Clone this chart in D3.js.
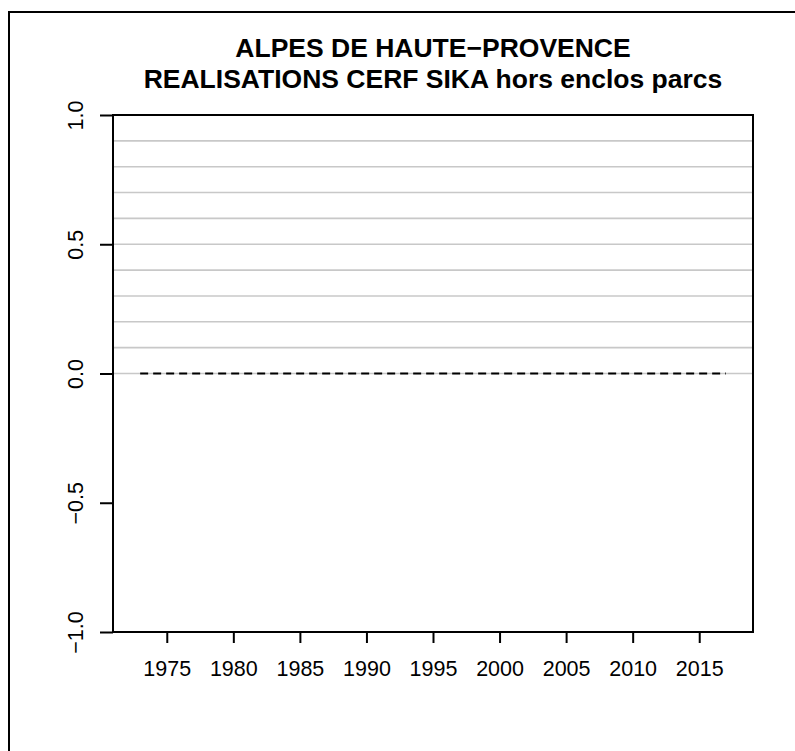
<!DOCTYPE html>
<html lang="fr">
<head>
<meta charset="UTF-8" />
<title>Réalisations cerf sika</title>
<style>
  html, body { margin: 0; padding: 0; background: #fff; }
  svg { display: block; }
  text { font-family: "Liberation Sans", Arial, Helvetica, sans-serif; fill: #000; }
</style>
</head>
<body>
<div id="wrapper"></div>
<script src="https://d3js.org/d3.v7.min.js"></script>
<script>
const years = d3.range(1973, 2018);
const realisations = years.map(() => 0);
const xTickValues = [1975, 1980, 1985, 1990, 1995, 2000, 2005, 2010, 2015];
const yTickValues = [-1, -0.5, 0, 0.5, 1];
const gridValues = [0, 0.1, 0.2, 0.3, 0.4, 0.5, 0.6, 0.7, 0.8, 0.9];
const titleLines = ["ALPES DE HAUTE\u2212PROVENCE", "REALISATIONS CERF SIKA hors enclos parcs"];

const W = 795, H = 751;
const plot = {left: 113, right: 753, top: 115, bottom: 632};

const svg = d3.select("#wrapper").append("svg")
  .attr("width", W).attr("height", H);

// outer frame (runs off the right / bottom edge like the original)
svg.append("rect")
  .attr("x", 9).attr("y", 12)
  .attr("width", W).attr("height", H)
  .attr("fill", "none").attr("stroke", "#000").attr("stroke-width", 2);

const x = d3.scaleLinear().domain([1970.96, 2019.04]).range([plot.left, plot.right]);
const y = d3.scaleLinear().domain([-1, 1]).range([plot.bottom, plot.top]);

// grey horizontal lines
svg.append("g")
  .selectAll("line")
  .data(gridValues)
  .join("line")
  .attr("x1", plot.left).attr("x2", plot.right)
  .attr("y1", d => y(d)).attr("y2", d => y(d))
  .attr("stroke", "#c8c8c8").attr("stroke-width", 1.6);

// dashed series line
const line = d3.line()
  .x((d, i) => x(years[i]))
  .y(d => y(d));
svg.append("path")
  .datum(realisations)
  .attr("d", line)
  .attr("fill", "none")
  .attr("stroke", "#000")
  .attr("stroke-width", 2)
  .attr("stroke-dasharray", "8,5");

// plot box
svg.append("rect")
  .attr("x", plot.left).attr("y", plot.top)
  .attr("width", plot.right - plot.left).attr("height", plot.bottom - plot.top)
  .attr("fill", "none").attr("stroke", "#000").attr("stroke-width", 2);

// x axis
const xAxis = svg.append("g")
  .attr("transform", "translate(0," + plot.bottom + ")")
  .call(d3.axisBottom(x).tickValues(xTickValues).tickFormat(d3.format("d"))
    .tickSize(11).tickPadding(33).tickSizeOuter(0));
xAxis.select(".domain").remove();
xAxis.selectAll("line").attr("stroke-width", 2);
xAxis.selectAll("text").attr("font-size", 21.5).attr("dy", 0)
  .style("font-family", "'Liberation Sans', Arial, sans-serif");

// y axis, labels turned like R's las=0
const yAxis = svg.append("g")
  .attr("transform", "translate(" + plot.left + ",0)")
  .call(d3.axisLeft(y).tickValues(yTickValues).tickFormat(d3.format(".1f"))
    .tickSize(13).tickSizeOuter(0));
yAxis.select(".domain").remove();
yAxis.selectAll("line").attr("stroke-width", 2);
yAxis.selectAll("text")
  .attr("x", null).attr("dy", null)
  .attr("text-anchor", "middle")
  .attr("font-size", 21.5)
  .style("font-family", "'Liberation Sans', Arial, sans-serif")
  .attr("transform", "translate(-30.5,0) rotate(-90)")
  .text(d => d3.format(".1f")(d).replace("-", "\u2212"));

// title
svg.append("g")
  .selectAll("text")
  .data(titleLines)
  .join("text")
  .attr("x", (plot.left + plot.right) / 2)
  .attr("y", (d, i) => 57 + i * 31)
  .attr("text-anchor", "middle")
  .attr("font-size", 26.5)
  .attr("font-weight", "bold")
  .text(d => d);
</script>
</body>
</html>
